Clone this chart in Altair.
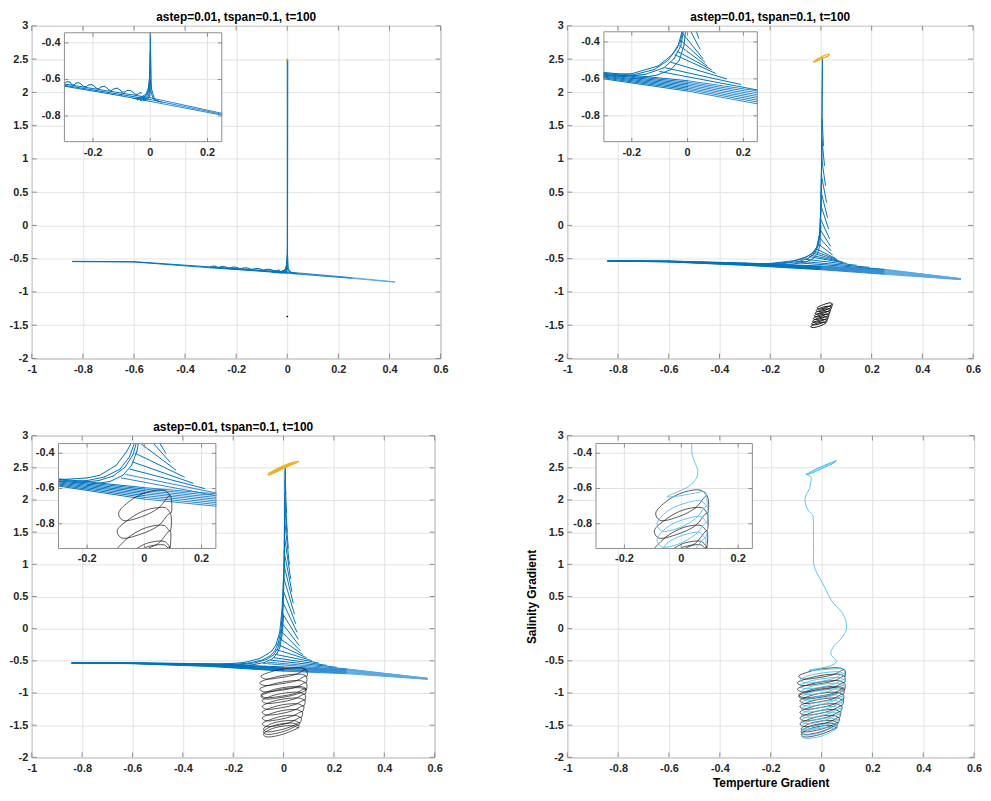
import altair as alt
import pandas as pd

FONT = "Liberation Sans"
TITLE = "astep=0.01, tspan=0.1, t=100"
X_TITLE = "Temperture Gradient"
Y_TITLE = "Salinity Gradient"

X_DOMAIN = [-1, 0.6]
Y_DOMAIN = [-2, 3]
X_TICKS = [-1, -0.8, -0.6, -0.4, -0.2, 0, 0.2, 0.4, 0.6]
Y_TICKS = [-2, -1.5, -1, -0.5, 0, 0.5, 1, 1.5, 2, 2.5, 3]
IN_X_DOMAIN = [-0.3, 0.25]
IN_Y_DOMAIN = [-0.94, -0.345]
IN_X_TICKS = [-0.2, 0, 0.2]
IN_Y_TICKS = [-0.8, -0.6, -0.4]

BLUE = "#0072BD"
BLUE_MID = "#2b88d0"
BLUE_LIGHT = "#5aa8e0"
ORANGE = "#EDB120"
CYAN = "#4DBEEE"
BLACK = "#111111"
FRAME = "#8c8c8c"
GRID = "#e3e3e3"
LABEL = "#262626"

# ---------------- panel 1 ----------------
P1_BLUE = [
    [(-0.84, -0.54), (-0.6, -0.545), (-0.3, -0.625), (-0.1, -0.675), (0.0, -0.70), (0.25, -0.785), (0.42, -0.848)],
    [(-0.84, -0.545), (-0.6, -0.55), (-0.3, -0.637), (-0.1, -0.69), (0.0, -0.72), (0.25, -0.795), (0.42, -0.853)],
    [(-0.3, -0.632), (-0.1, -0.683), (0.0, -0.71), (0.25, -0.79)],
    [(-0.30, -0.622), (-0.29, -0.612), (-0.28, -0.615), (-0.275, -0.628), (-0.265, -0.63), (-0.26, -0.62),
     (-0.25, -0.618), (-0.24, -0.627), (-0.235, -0.637), (-0.225, -0.64), (-0.215, -0.63), (-0.205, -0.628),
     (-0.195, -0.637), (-0.19, -0.647), (-0.18, -0.65), (-0.17, -0.64), (-0.16, -0.638), (-0.15, -0.648),
     (-0.145, -0.658), (-0.135, -0.66), (-0.125, -0.65), (-0.115, -0.648), (-0.105, -0.658), (-0.1, -0.668),
     (-0.09, -0.67), (-0.08, -0.66), (-0.07, -0.66), (-0.06, -0.67), (-0.055, -0.68), (-0.045, -0.682),
     (-0.035, -0.672), (-0.03, -0.675)],
    [(-0.06, -0.705), (-0.03, -0.695), (-0.015, -0.68), (-0.007, -0.65), (-0.003, -0.6), (-0.001, -0.5), (0.0, -0.3), (0.0, 2.5)],
    [(-0.045, -0.712), (-0.02, -0.70), (-0.01, -0.685), (-0.004, -0.655), (-0.002, -0.6), (0.0, -0.45)],
    [(-0.035, -0.715), (-0.015, -0.705), (-0.006, -0.69), (-0.002, -0.66), (0.001, -0.55), (0.001, -0.3), (0.002, 2.48)],
    [(-0.025, -0.715), (-0.008, -0.705), (-0.002, -0.69), (0.0, -0.64)],
    [(-0.05, -0.708), (-0.022, -0.697), (-0.009, -0.672), (-0.004, -0.63), (-0.001, -0.55)],
    [(0.0, -0.6), (0.003, -0.67), (0.01, -0.705), (0.03, -0.72)],
    [(0.001, -0.45), (0.004, -0.65), (0.015, -0.71), (0.04, -0.725)],
]
P1_ORANGE = [[(-0.003, 2.47), (0.0, 2.5), (0.003, 2.49)]]
P1_BLACK = [[(-0.003, -1.365), (0.003, -1.375)]]

# ---------------- panel 2 ----------------
P2_BLUE = [
    [(-0.84, -0.53), (-0.6, -0.535), (-0.3, -0.565), (0.0, -0.61), (0.25, -0.665), (0.55, -0.80)],
    [(-0.84, -0.53), (-0.6, -0.537), (-0.3, -0.57), (0.0, -0.618), (0.25, -0.675), (0.55, -0.803)],
    [(-0.84, -0.532), (-0.6, -0.539), (-0.3, -0.575), (0.0, -0.626), (0.25, -0.685), (0.55, -0.805)],
    [(-0.84, -0.532), (-0.6, -0.541), (-0.3, -0.58), (0.0, -0.634), (0.25, -0.695), (0.55, -0.807)],
    [(-0.84, -0.534), (-0.6, -0.543), (-0.3, -0.585), (0.0, -0.642), (0.25, -0.705), (0.55, -0.809)],
    [(-0.84, -0.534), (-0.6, -0.545), (-0.3, -0.59), (0.0, -0.65), (0.25, -0.715), (0.55, -0.811)],
    [(-0.84, -0.536), (-0.6, -0.547), (-0.3, -0.595), (0.0, -0.658), (0.25, -0.725), (0.55, -0.813)],
    [(-0.84, -0.536), (-0.6, -0.549), (-0.3, -0.60), (0.0, -0.666), (0.25, -0.735), (0.55, -0.815)],
    [(-0.3, -0.575), (-0.2, -0.572), (-0.105, -0.53), (-0.056, -0.47), (-0.026, -0.40), (-0.012, -0.3),
     (-0.004, -0.1), (0.0, 0.3), (0.003, 1.0), (0.005, 2.0), (0.006, 2.52)],
    [(-0.3, -0.585), (-0.2, -0.58), (-0.12, -0.55), (-0.07, -0.5), (-0.036, -0.43), (-0.017, -0.33),
     (-0.006, -0.15), (-0.001, 0.2), (0.003, 1.0), (0.005, 2.0), (0.006, 2.5)],
    [(-0.25, -0.59), (-0.15, -0.575), (-0.085, -0.54), (-0.048, -0.49), (-0.024, -0.42), (-0.01, -0.3),
     (-0.003, -0.1), (0.001, 0.3), (0.004, 1.2)],
    [(-0.2, -0.6), (-0.11, -0.58), (-0.06, -0.55), (-0.03, -0.5), (-0.013, -0.42), (-0.004, -0.3), (0.0, 0.0)],
    [(0.005, 1.6), (0.010, 1.2)],
    [(0.004, 1.3), (0.014, 0.9)],
    [(0.003, 1.0), (0.018, 0.6)],
    [(0.002, 0.75), (0.022, 0.35)],
    [(0.001, 0.5), (0.026, 0.12)],
    [(0.0, 0.3), (0.03, -0.05)],
    [(-0.002, 0.1), (0.034, -0.2)],
    [(-0.005, -0.05), (0.037, -0.31)],
    [(-0.009, -0.17), (0.04, -0.38)],
    [(-0.014, -0.27), (0.045, -0.44)],
    [(-0.02, -0.35), (0.055, -0.49)],
    [(-0.025, -0.39), (0.062, -0.51)],
    [(-0.03, -0.42), (0.07, -0.53)],
    [(-0.038, -0.45), (0.085, -0.55)],
    [(-0.045, -0.47), (0.10, -0.57)],
    [(-0.06, -0.51), (0.14, -0.60)],
    [(-0.08, -0.54), (0.19, -0.63)],
    [(-0.1, -0.56), (0.25, -0.66), (0.55, -0.80)],
]
P2_ORANGE = [[(-0.029, 2.46), (0.0, 2.53), (0.032, 2.575), (0.03, 2.555), (0.0, 2.50), (-0.029, 2.455), (-0.029, 2.46)]]
P2_BLACK = [[
    (0.020, -1.465), (0.010, -1.455), (-0.015, -1.47), (-0.040, -1.52), (-0.035, -1.535), (-0.010, -1.52), (0.015, -1.48), (0.020, -1.465),
    (0.024, -1.425), (0.014, -1.415), (-0.011, -1.43), (-0.037, -1.48), (-0.032, -1.495), (-0.006, -1.48), (0.019, -1.44), (0.024, -1.425),
    (0.028, -1.385), (0.018, -1.375), (-0.007, -1.39), (-0.033, -1.44), (-0.028, -1.455), (-0.002, -1.44), (0.023, -1.40), (0.028, -1.385),
    (0.031, -1.345), (0.021, -1.335), (-0.004, -1.35), (-0.030, -1.40), (-0.025, -1.415), (0.001, -1.40), (0.026, -1.36), (0.031, -1.345),
    (0.035, -1.305), (0.025, -1.295), (0.0, -1.31), (-0.026, -1.36), (-0.021, -1.375), (0.005, -1.36), (0.03, -1.32), (0.035, -1.305),
    (0.038, -1.265), (0.028, -1.255), (0.003, -1.27), (-0.023, -1.32), (-0.018, -1.335), (0.008, -1.32), (0.033, -1.28), (0.038, -1.265),
    (0.042, -1.225), (0.032, -1.215), (0.007, -1.23), (-0.019, -1.28), (-0.014, -1.295), (0.012, -1.28), (0.037, -1.24), (0.042, -1.225),
    (0.045, -1.18), (0.038, -1.165), (0.011, -1.19), (-0.015, -1.24), (-0.01, -1.255), (0.016, -1.24), (0.04, -1.2), (0.045, -1.18),
]]

# ---------------- panel 3 ----------------
P3_BLUE = [
    [(-0.84, -0.53), (-0.6, -0.53), (-0.3, -0.545), (0.0, -0.595), (0.25, -0.63), (0.57, -0.772)],
    [(-0.84, -0.53), (-0.6, -0.532), (-0.3, -0.55), (0.0, -0.603), (0.25, -0.64), (0.57, -0.774)],
    [(-0.84, -0.532), (-0.6, -0.534), (-0.3, -0.556), (0.0, -0.612), (0.25, -0.65), (0.57, -0.776)],
    [(-0.84, -0.532), (-0.6, -0.536), (-0.3, -0.562), (0.0, -0.621), (0.25, -0.66), (0.57, -0.778)],
    [(-0.84, -0.534), (-0.6, -0.538), (-0.3, -0.568), (0.0, -0.63), (0.25, -0.67), (0.57, -0.78)],
    [(-0.84, -0.534), (-0.6, -0.54), (-0.3, -0.574), (0.0, -0.64), (0.25, -0.68), (0.57, -0.782)],
    [(-0.84, -0.536), (-0.6, -0.542), (-0.3, -0.58), (0.0, -0.65), (0.25, -0.69), (0.57, -0.784)],
    [(-0.84, -0.536), (-0.6, -0.544), (-0.3, -0.586), (0.0, -0.66), (0.25, -0.70), (0.57, -0.786)],
    [(-0.3, -0.55), (-0.2, -0.54), (-0.156, -0.525), (-0.098, -0.468), (-0.063, -0.393), (-0.046, -0.344),
     (-0.03, -0.25), (-0.015, -0.05), (-0.006, 0.3), (0.002, 1.0), (0.005, 2.0), (0.007, 2.53)],
    [(-0.3, -0.56), (-0.2, -0.555), (-0.14, -0.535), (-0.085, -0.49), (-0.052, -0.42), (-0.034, -0.34),
     (-0.021, -0.22), (-0.01, -0.02), (-0.003, 0.35), (0.003, 1.0), (0.005, 2.0), (0.007, 2.5)],
    [(-0.25, -0.57), (-0.16, -0.555), (-0.11, -0.53), (-0.068, -0.48), (-0.04, -0.41), (-0.024, -0.32),
     (-0.013, -0.18), (-0.005, 0.05), (0.0, 0.5), (0.004, 1.3)],
    [(-0.2, -0.58), (-0.12, -0.56), (-0.075, -0.525), (-0.045, -0.47), (-0.026, -0.39), (-0.014, -0.28),
     (-0.006, -0.1), (0.0, 0.2)],
    [(0.006, 2.45), (0.009, 2.1)],
    [(0.006, 2.3), (0.012, 1.8)],
    [(0.005, 2.1), (0.015, 1.5)],
    [(0.005, 1.9), (0.019, 1.25)],
    [(0.004, 1.7), (0.023, 1.0)],
    [(0.003, 1.45), (0.028, 0.78)],
    [(0.002, 1.2), (0.033, 0.58)],
    [(0.001, 1.0), (0.038, 0.4)],
    [(0.0, 0.8), (0.043, 0.23)],
    [(-0.002, 0.6), (0.048, 0.08)],
    [(-0.004, 0.42), (0.053, -0.05)],
    [(-0.006, 0.25), (0.058, -0.16)],
    [(-0.009, 0.1), (0.062, -0.26)],
    [(-0.012, -0.03), (0.066, -0.34)],
    [(-0.016, -0.15), (0.075, -0.40)],
    [(-0.02, -0.25), (0.09, -0.45)],
    [(-0.025, -0.33), (0.11, -0.495)],
    [(-0.032, -0.40), (0.14, -0.535)],
    [(-0.04, -0.45), (0.17, -0.57)],
    [(-0.05, -0.49), (0.21, -0.60)],
    [(-0.065, -0.52), (0.25, -0.625), (0.57, -0.77)],
    [(-0.08, -0.54), (0.25, -0.64), (0.57, -0.772)],
]
P3_ORANGE = [[(-0.06, 2.41), (-0.03, 2.475), (0.0, 2.53), (0.03, 2.575), (0.06, 2.60), (0.03, 2.545), (0.0, 2.49),
              (-0.03, 2.435), (-0.06, 2.39), (-0.061, 2.40), (-0.03, 2.455), (0.0, 2.51), (0.03, 2.56), (0.058, 2.595)]]

# black trajectory (same in panels 3 and 4): stacked tilted loops
P34_BLACK = [[
    (0.09, -0.64), (0.07, -0.61), (0.01, -0.62), (-0.05, -0.67), (-0.09, -0.74), (-0.075, -0.78), (-0.01, -0.76), (0.05, -0.71), (0.09, -0.64),
    (0.093, -0.74), (0.075, -0.71), (0.01, -0.72), (-0.05, -0.77), (-0.095, -0.84), (-0.08, -0.88), (-0.015, -0.86), (0.05, -0.81), (0.09, -0.74),
    (0.09, -0.84), (0.07, -0.81), (0.01, -0.82), (-0.05, -0.87), (-0.095, -0.94), (-0.08, -0.98), (-0.015, -0.96), (0.05, -0.91), (0.09, -0.84),
    (0.09, -0.95), (0.07, -0.92), (0.01, -0.93), (-0.05, -0.98), (-0.09, -1.05), (-0.075, -1.09), (-0.01, -1.07), (0.05, -1.02), (0.09, -0.95),
    (0.088, -0.93), (0.07, -0.90), (0.01, -0.91), (-0.05, -0.96), (-0.09, -1.03), (-0.075, -1.07), (-0.01, -1.05), (0.05, -1.0), (0.088, -0.93),
    (0.085, -1.02), (0.065, -0.99), (0.005, -1.0), (-0.05, -1.05), (-0.085, -1.12), (-0.07, -1.16), (-0.01, -1.14), (0.045, -1.09), (0.085, -1.02),
    (0.085, -1.11), (0.065, -1.08), (0.005, -1.09), (-0.05, -1.14), (-0.085, -1.21), (-0.07, -1.25), (-0.01, -1.23), (0.045, -1.18), (0.085, -1.11),
    (0.08, -1.20), (0.06, -1.17), (0.0, -1.18), (-0.05, -1.23), (-0.085, -1.30), (-0.07, -1.34), (-0.01, -1.32), (0.04, -1.27), (0.08, -1.20),
    (0.075, -1.29), (0.055, -1.26), (0.0, -1.27), (-0.05, -1.32), (-0.085, -1.39), (-0.07, -1.43), (-0.015, -1.41), (0.035, -1.36), (0.075, -1.29),
    (0.07, -1.38), (0.05, -1.35), (-0.005, -1.36), (-0.05, -1.41), (-0.085, -1.48), (-0.07, -1.52), (-0.015, -1.50), (0.03, -1.45), (0.07, -1.38),
    (0.065, -1.46), (0.045, -1.43), (-0.01, -1.44), (-0.055, -1.49), (-0.08, -1.56), (-0.07, -1.60), (-0.02, -1.58), (0.025, -1.53), (0.065, -1.46),
    (0.06, -1.50), (0.04, -1.47), (-0.01, -1.48), (-0.055, -1.53), (-0.08, -1.60), (-0.07, -1.64), (-0.02, -1.62), (0.02, -1.57), (0.06, -1.50),
    (0.06, -1.54), (0.04, -1.51), (-0.01, -1.52), (-0.055, -1.57), (-0.08, -1.64), (-0.07, -1.68), (-0.02, -1.66), (0.02, -1.61), (0.06, -1.54),
]]

# ---------------- panel 4 ----------------
P4_CYAN = [[
    (-0.055, 2.40), (-0.03, 2.465), (0.0, 2.52), (0.03, 2.57), (0.059, 2.61), (0.05, 2.58), (0.02, 2.525),
    (-0.01, 2.47), (-0.04, 2.42), (-0.06, 2.395), (-0.035, 2.45), (-0.005, 2.505), (0.025, 2.555), (0.055, 2.60),
    (0.045, 2.57), (0.015, 2.515), (-0.015, 2.46), (-0.045, 2.41), (-0.061, 2.405), (-0.045, 2.37), (-0.041, 2.34),
    (-0.043, 2.26), (-0.047, 2.18), (-0.058, 2.10), (-0.065, 2.03), (-0.063, 1.94), (-0.054, 1.85), (-0.043, 1.80),
    (-0.035, 1.77), (-0.032, 1.6), (-0.032, 1.4), (-0.031, 1.2), (-0.031, 1.01), (-0.02, 0.88), (-0.002, 0.75),
    (0.018, 0.6), (0.037, 0.45), (0.06, 0.34), (0.082, 0.245), (0.095, 0.13), (0.099, 0.017), (0.095, -0.04),
    (0.09, -0.08), (0.076, -0.16), (0.06, -0.22), (0.05, -0.26), (0.043, -0.31), (0.037, -0.35), (0.037, -0.39),
    (0.04, -0.42), (0.05, -0.46), (0.058, -0.5), (0.055, -0.535), (0.045, -0.56), (0.025, -0.59), (0.0, -0.61),
    (-0.03, -0.63), (-0.05, -0.647), (0.0, -0.64), (0.05, -0.625), (0.085, -0.62), (0.09, -0.66),
    (0.09, -0.70), (0.07, -0.67), (0.01, -0.685), (-0.05, -0.73), (-0.085, -0.80), (-0.07, -0.84), (-0.01, -0.825), (0.05, -0.77), (0.09, -0.70),
    (0.09, -0.79), (0.07, -0.76), (0.01, -0.775), (-0.05, -0.82), (-0.085, -0.89), (-0.07, -0.93), (-0.01, -0.915), (0.05, -0.86), (0.09, -0.79),
    (0.085, -0.88), (0.065, -0.85), (0.005, -0.865), (-0.05, -0.91), (-0.08, -0.98), (-0.065, -1.02), (-0.01, -1.005), (0.045, -0.95), (0.085, -0.88),
    (0.085, -0.97), (0.065, -0.94), (0.005, -0.955), (-0.05, -1.0), (-0.08, -1.07), (-0.065, -1.11), (-0.01, -1.095), (0.045, -1.04), (0.085, -0.97),
    (0.08, -1.06), (0.06, -1.03), (0.0, -1.045), (-0.05, -1.09), (-0.08, -1.16), (-0.065, -1.20), (-0.01, -1.185), (0.04, -1.13), (0.08, -1.06),
    (0.08, -1.15), (0.06, -1.12), (0.0, -1.135), (-0.05, -1.18), (-0.08, -1.25), (-0.065, -1.29), (-0.01, -1.275), (0.04, -1.22), (0.08, -1.15),
    (0.075, -1.24), (0.055, -1.21), (0.0, -1.225), (-0.05, -1.27), (-0.08, -1.34), (-0.065, -1.38), (-0.015, -1.365), (0.035, -1.31), (0.075, -1.24),
    (0.07, -1.33), (0.05, -1.30), (-0.005, -1.315), (-0.05, -1.36), (-0.08, -1.43), (-0.065, -1.47), (-0.015, -1.455), (0.03, -1.40), (0.07, -1.33),
    (0.065, -1.42), (0.045, -1.39), (-0.01, -1.405), (-0.055, -1.45), (-0.08, -1.52), (-0.065, -1.56), (-0.02, -1.545), (0.025, -1.49), (0.065, -1.42),
    (0.06, -1.51), (0.04, -1.48), (-0.01, -1.495), (-0.055, -1.54), (-0.08, -1.61), (-0.07, -1.65), (-0.02, -1.635), (0.02, -1.58), (0.06, -1.51),
    (0.055, -1.57), (0.035, -1.54), (-0.015, -1.555), (-0.06, -1.60), (-0.08, -1.67), (-0.07, -1.70), (-0.02, -1.69), (0.02, -1.64), (0.055, -1.57),
]]

# ---------------- layout (pixels) ----------------
P_SIZE = [(413, 336), (410, 336), (407, 325), (411, 325)]
INSET_BOX = [(33, 192, 7, 117), (37, 192, 6, 117), (27, 186, 8, 114), (29, 187, 8, 114)]
BOX = (IN_X_DOMAIN[0], IN_X_DOMAIN[1], IN_Y_DOMAIN[0], IN_Y_DOMAIN[1])


def blue_shade(xm):
    if xm < 0.08:
        return BLUE
    if xm < 0.3:
        return BLUE_MID
    return BLUE_LIGHT


def clip_segment(x1, y1, x2, y2, box):
    xmin, xmax, ymin, ymax = box
    dx, dy = x2 - x1, y2 - y1
    u1, u2 = 0.0, 1.0
    for p, q in ((-dx, x1 - xmin), (dx, xmax - x1), (-dy, y1 - ymin), (dy, ymax - y1)):
        if p == 0:
            if q < 0:
                return None
        else:
            t = q / p
            if p < 0:
                u1 = max(u1, t)
            else:
                u2 = min(u2, t)
    if u1 > u2:
        return None
    return (x1 + u1 * dx, y1 + u1 * dy, x1 + u2 * dx, y1 + u2 * dy, u1, u2)


def shaded_segments(lines, box=None):
    rows = []
    for pts in lines:
        for (xa, ya), (xb, yb) in zip(pts[:-1], pts[1:]):
            c = blue_shade((xa + xb) / 2)
            if box is None:
                rows.append((xa, ya, xb, yb, c))
            else:
                s = clip_segment(xa, ya, xb, yb, box)
                if s is not None:
                    rows.append((s[0], s[1], s[2], s[3], c))
    return rows


def clip_pieces(lines, box=None):
    if box is None:
        return [list(p) for p in lines]
    pieces = []
    for pts in lines:
        cur = []
        for (xa, ya), (xb, yb) in zip(pts[:-1], pts[1:]):
            s = clip_segment(xa, ya, xb, yb, box)
            if s is None:
                if cur:
                    pieces.append(cur)
                cur = []
                continue
            p0, p1 = (s[0], s[1]), (s[2], s[3])
            if not cur or s[4] > 0:
                if cur:
                    pieces.append(cur)
                cur = [p0]
            cur.append(p1)
            if s[5] < 1:
                pieces.append(cur)
                cur = []
        if cur:
            pieces.append(cur)
    return [p for p in pieces if len(p) > 1]


def axis_x(title):
    return alt.Axis(values=X_TICKS, labelExpr="'' + datum.value", grid=True, gridColor=GRID, gridWidth=1,
                    domain=False, ticks=False, tickSize=0, labelFont=FONT, labelFontSize=11, labelFontWeight="bold",
                    labelColor=LABEL, labelPadding=5, labelFlush=False, labelOverlap=False,
                    title=title, titleFont=FONT, titleFontSize=12, titleFontWeight="bold",
                    titleColor="#000000", titlePadding=4)


def axis_y(title):
    return alt.Axis(values=Y_TICKS, labelExpr="'' + datum.value", grid=True, gridColor=GRID, gridWidth=1,
                    domain=False, ticks=False, tickSize=0, labelFont=FONT, labelFontSize=11, labelFontWeight="bold",
                    labelColor=LABEL, labelPadding=4, labelFlush=False, labelOverlap=False,
                    title=title, titleFont=FONT, titleFontSize=12, titleFontWeight="bold",
                    titleColor="#000000", titlePadding=6)


def rule_layer(rows, sx, sy, ax, ay, width):
    df = pd.DataFrame(rows, columns=["x", "y", "x2", "y2", "c"])
    return alt.Chart(df).mark_rule(strokeWidth=width, strokeCap="round").encode(
        x=alt.X("x:Q", scale=sx, axis=ax),
        y=alt.Y("y:Q", scale=sy, axis=ay),
        x2="x2:Q", y2="y2:Q",
        color=alt.Color("c:N", scale=None),
    )


def line_layer(pieces, color, sx, sy, ax, ay, width):
    rows = []
    for pid, pts in enumerate(pieces):
        for i, (x, y) in enumerate(pts):
            rows.append((x, y, pid, i))
    df = pd.DataFrame(rows, columns=["x", "y", "pid", "i"])
    return alt.Chart(df).mark_line(color=color, strokeWidth=width, interpolate="catmull-rom", strokeJoin="round").encode(
        x=alt.X("x:Q", scale=sx, axis=ax),
        y=alt.Y("y:Q", scale=sy, axis=ay),
        detail="pid:N", order="i:Q",
    )


def tick_layers(xd, yd, xt, yt, sx, sy, ax, ay, size):
    h = size / 2
    sets = [
        (pd.DataFrame({"x": xt, "y": [yd[0]] * len(xt)}), "vertical", {"yOffset": -h}),
        (pd.DataFrame({"x": xt, "y": [yd[1]] * len(xt)}), "vertical", {"yOffset": h}),
        (pd.DataFrame({"x": [xd[0]] * len(yt), "y": yt}), "horizontal", {"xOffset": h}),
        (pd.DataFrame({"x": [xd[1]] * len(yt), "y": yt}), "horizontal", {"xOffset": -h}),
    ]
    out = []
    for df, orient, off in sets:
        out.append(alt.Chart(df).mark_tick(orient=orient, size=size, thickness=1, color=FRAME, opacity=1, **off).encode(
            x=alt.X("x:Q", scale=sx, axis=ax), y=alt.Y("y:Q", scale=sy, axis=ay)))
    return out


def series_layers(groups, sx, sy, ax, ay, box=None):
    out = []
    for lines, color, mode, width in groups:
        if mode == "shade":
            rows = shaded_segments(lines, box)
            if rows:
                out.append(rule_layer(rows, sx, sy, ax, ay, width))
        else:
            pieces = clip_pieces(lines, box)
            if pieces:
                out.append(line_layer(pieces, color, sx, sy, ax, ay, width))
    return out


def make_panel(k, groups, title=None, xtitle=None, ytitle=None):
    w, h = P_SIZE[k]
    l, r, t, b = INSET_BOX[k]
    sx = alt.Scale(domain=X_DOMAIN, nice=False, zero=False)
    sy = alt.Scale(domain=Y_DOMAIN, nice=False, zero=False)
    isx = alt.Scale(domain=IN_X_DOMAIN, range=[l, r], nice=False, zero=False)
    isy = alt.Scale(domain=IN_Y_DOMAIN, range=[b, t], nice=False, zero=False)
    ax, ay = axis_x(xtitle), axis_y(ytitle)

    main = series_layers(groups, sx, sy, ax, ay)
    main += tick_layers(X_DOMAIN, Y_DOMAIN, X_TICKS, Y_TICKS, sx, sy, ax, ay, 5)
    inset_lines = series_layers(groups, isx, isy, None, None, BOX)

    box = pd.DataFrame({"x": [IN_X_DOMAIN[0]], "x2": [IN_X_DOMAIN[1]], "y": [IN_Y_DOMAIN[0]], "y2": [IN_Y_DOMAIN[1]]})
    enc_box = dict(x=alt.X("x:Q", scale=isx, axis=None), y=alt.Y("y:Q", scale=isy, axis=None), x2="x2:Q", y2="y2:Q")
    bg = alt.Chart(box).mark_rect(color="white").encode(**enc_box)
    frame = alt.Chart(box).mark_rect(fillOpacity=0, stroke=FRAME, strokeWidth=1).encode(**enc_box)
    vg = alt.Chart(pd.DataFrame({"x": IN_X_TICKS, "y": [IN_Y_DOMAIN[0]] * 3, "y2": [IN_Y_DOMAIN[1]] * 3})).mark_rule(
        color=GRID, strokeWidth=1).encode(x=alt.X("x:Q", scale=isx, axis=None), y=alt.Y("y:Q", scale=isy, axis=None), y2="y2:Q")
    hg = alt.Chart(pd.DataFrame({"y": IN_Y_TICKS, "x": [IN_X_DOMAIN[0]] * 3, "x2": [IN_X_DOMAIN[1]] * 3})).mark_rule(
        color=GRID, strokeWidth=1).encode(x=alt.X("x:Q", scale=isx, axis=None), y=alt.Y("y:Q", scale=isy, axis=None), x2="x2:Q")
    xl = alt.Chart(pd.DataFrame({"x": IN_X_TICKS, "y": [IN_Y_DOMAIN[0]] * 3, "t": [f"{v:g}" for v in IN_X_TICKS]})).mark_text(
        baseline="top", align="center", dy=5, font=FONT, fontSize=11, fontWeight="bold", color=LABEL).encode(
        x=alt.X("x:Q", scale=isx, axis=None), y=alt.Y("y:Q", scale=isy, axis=None), text="t:N")
    yl = alt.Chart(pd.DataFrame({"y": IN_Y_TICKS, "x": [IN_X_DOMAIN[0]] * 3, "t": [f"{v:g}" for v in IN_Y_TICKS]})).mark_text(
        baseline="middle", align="right", dx=-4, font=FONT, fontSize=11, fontWeight="bold", color=LABEL).encode(
        x=alt.X("x:Q", scale=isx, axis=None), y=alt.Y("y:Q", scale=isy, axis=None), text="t:N")
    in_ticks = tick_layers(IN_X_DOMAIN, IN_Y_DOMAIN, IN_X_TICKS, IN_Y_TICKS, isx, isy, None, None, 4)

    inset = [bg, vg, hg] + inset_lines + in_ticks + [frame, xl, yl]
    ch = alt.layer(alt.layer(*main), alt.layer(*inset)).resolve_scale(
        x="independent", y="independent").properties(width=w, height=h)
    if title:
        ch = ch.properties(title=alt.TitleParams(text=title, offset=-4))
    return ch


p1 = make_panel(0, [(P1_BLUE, BLUE, "shade", 1.0), (P1_ORANGE, ORANGE, "smooth", 1.3), (P1_BLACK, BLACK, "smooth", 1.5)], title=TITLE)
p2 = make_panel(1, [(P2_BLUE, BLUE, "shade", 1.0), (P2_ORANGE, ORANGE, "smooth", 1.4), (P2_BLACK, BLACK, "smooth", 1.0)], title=TITLE)
p3 = make_panel(2, [(P3_BLUE, BLUE, "shade", 1.0), (P3_ORANGE, ORANGE, "smooth", 1.3), (P34_BLACK, BLACK, "smooth", 0.7)], title=TITLE)
p4 = make_panel(3, [(P34_BLACK, BLACK, "smooth", 0.7), (P4_CYAN, CYAN, "smooth", 0.9)], xtitle=X_TITLE, ytitle=Y_TITLE)

chart = alt.concat(p1, p2, p3, p4, columns=2, spacing={"row": 78, "column": 128}, bounds="flush").properties(
    padding={"top": -2, "bottom": 0, "left": 0, "right": 0}, background="white"
).configure_view(stroke=FRAME, strokeWidth=1).configure_title(
    font=FONT, fontSize=12, fontWeight="bold", color="#000000", anchor="middle")

chart.save("out.html", embed_options={"renderer": "svg", "actions": False})
